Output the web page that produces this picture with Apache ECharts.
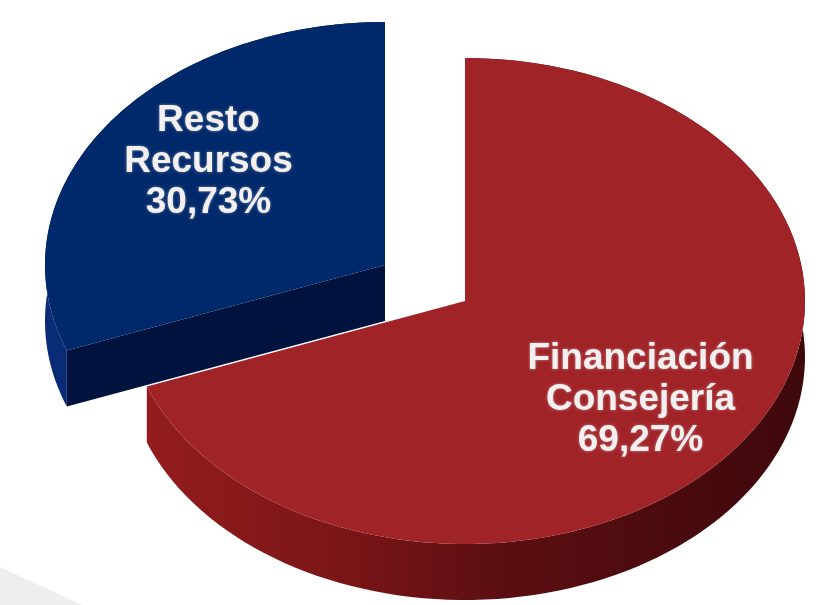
<!DOCTYPE html>
<html>
<head>
<meta charset="utf-8">
<title>Financiación</title>
<script src="https://cdn.jsdelivr.net/npm/echarts@6/dist/echarts.min.js"></script>
<style>
html,body{margin:0;padding:0;background:#fff;}
/* el original es una imagen algo borrosa */
#chart{width:827px;height:605px;filter:blur(0.7px);}
</style>
</head>
<body>
<div id="chart"></div>
<script>
// datos de la tarta
var categories = ['Financiación\nConsejería', 'Resto\nRecursos'];
var values = [69.27, 30.73];
var faceColors = ['#a02328', '#00296b'];
var cutColors = ['#5a0d10', '#00123e'];

// la tarta es una elipse con grosor, el pie normal de echarts no lo hace
var rx = 340, ry = 243, depth = 56;
var centers = [[465, 301], [385, 265]];
var labelRadius = 0.66;
var labelOffsets = [[-9, 8], [8, -12]];

var total = 0;
for (var n = 0; n < values.length; n++) {
    total += values[n];
}

function arcPoints(c, from, to, dy) {
    var pts = [], steps = 120;
    for (var i = 0; i <= steps; i++) {
        var a = from + (to - from) * i / steps;
        pts.push([c[0] + rx * Math.sin(a), c[1] - ry * Math.cos(a) + dy]);
    }
    return pts;
}

function sideGradient(i) {
    if (i === 0) {
        return new echarts.graphic.LinearGradient(0, 0, 1, 0, [
            {offset: 0, color: '#931c1e'},
            {offset: 0.3, color: '#7a1517'},
            {offset: 0.55, color: '#5a0e11'},
            {offset: 1, color: '#3e080b'}
        ]);
    }
    return new echarts.graphic.LinearGradient(0, 0, 1, 0, [
        {offset: 0, color: '#0a2c78'},
        {offset: 0.7, color: '#04205a'},
        {offset: 1, color: '#00123e'}
    ]);
}

function renderSlice(params, api) {
    var i = params.dataIndex;
    var c = centers[i];
    var before = 0;
    for (var k = 0; k < i; k++) {
        before += values[k];
    }
    var from = before / total * Math.PI * 2;
    var to = (before + api.value(0)) / total * Math.PI * 2;
    var mid = (from + to) / 2;

    var topArc = arcPoints(c, from, to, 0);
    var lowArc = arcPoints(c, from, to, depth).reverse();
    var startPt = topArc[0];
    var pct = api.value(0).toFixed(2).replace('.', ',') + '%';

    return {
        type: 'group',
        children: [
            {
                type: 'polygon',
                shape: {points: topArc.concat(lowArc)},
                style: {fill: sideGradient(i)}
            },
            {
                // corte recto que se ve de frente
                type: 'polygon',
                shape: {points: [c, startPt, [startPt[0], startPt[1] + depth], [c[0], c[1] + depth]]},
                style: {fill: cutColors[i]}
            },
            {
                type: 'polygon',
                shape: {points: [c].concat(topArc)},
                style: {fill: faceColors[i]}
            },
            {
                type: 'text',
                style: {
                    text: categories[i] + '\n' + pct,
                    x: c[0] + rx * labelRadius * Math.sin(mid) + labelOffsets[i][0],
                    y: c[1] - ry * labelRadius * Math.cos(mid) + labelOffsets[i][1],
                    fill: '#f4f0f0',
                    font: 'bold 37px "Liberation Sans", Arial, sans-serif',
                    align: 'center',
                    verticalAlign: 'middle',
                    lineHeight: 41,
                    textShadowColor: 'rgba(255,255,255,0.45)',
                    textShadowBlur: 3
                }
            }
        ]
    };
}

var myChart = echarts.init(document.getElementById('chart'));
var option = {
    animation: false,
    backgroundColor: '#ffffff',
    graphic: [{
        // sombra gris de fondo abajo a la izquierda
        type: 'polygon',
        silent: true,
        z: -1,
        shape: {points: [[0, 567], [82, 605], [0, 605]]},
        style: {fill: '#eeeeee'}
    }],
    series: [{
        type: 'custom',
        coordinateSystem: 'none',
        renderItem: renderSlice,
        data: values.map(function (v) { return [v]; })
    }]
};
myChart.setOption(option);
</script>
</body>
</html>
